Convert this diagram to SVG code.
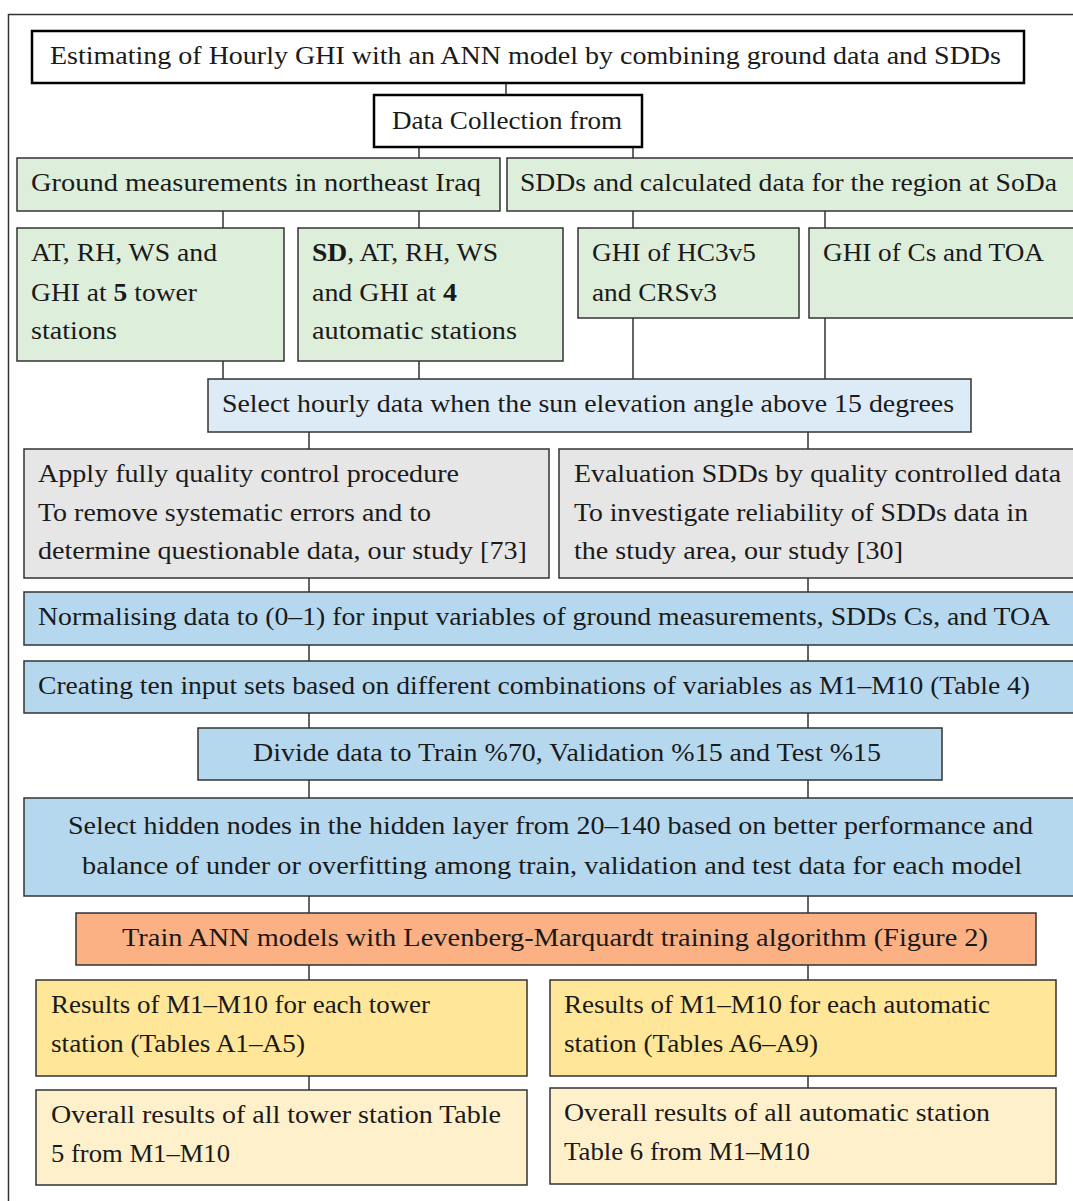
<svg xmlns="http://www.w3.org/2000/svg" width="1073" height="1201" viewBox="0 0 1073 1201">
<style>
text{font-family:"Liberation Serif","Times New Roman",serif;font-size:25px;fill:#1a1a1a}
.b{stroke:#333;stroke-width:1.5}
.k{fill:#fff;stroke:#000;stroke-width:2.5}
.g{fill:#ddeedb}
.lb{fill:#ddebf7}
.gr{fill:#e6e6e6}
.bl{fill:#b5d8ef}
.or{fill:#fbb184}
.y{fill:#ffe698}
.ly{fill:#fff0cc}
.c{stroke:#333;stroke-width:1.5;fill:none}
</style>
<rect width="1073" height="1201" fill="#fff"/>
<path d="M8.5,1201 V14.5 H1073" fill="none" stroke="#333" stroke-width="1.5"/>
<g id="connectors">
<path class="c" d="M506,83 V95 M419,147 V158 M633,147 V158 M223,211 V228 M419,211 V228 M633,211 V228 M825,211 V228 M223,361 V379 M419,361 V379 M633,318 V379 M825,318 V379 M309,432 V449 M808,432 V449 M309,578 V592 M808,578 V592 M309,645 V661 M808,645 V661 M309,713 V728 M808,713 V728 M309,780 V798 M808,780 V798 M309,896 V913 M808,896 V913 M309,965 V980 M808,965 V980 M309,1076 V1090 M808,1076 V1088"/>
</g>
<g id="title"><rect class="k" x="32" y="31" width="992" height="52"/><text x="50" y="64" textLength="951" lengthAdjust="spacingAndGlyphs">Estimating of Hourly GHI with an ANN model by combining ground data and SDDs</text></g>
<g id="collection"><rect class="k" x="374" y="95" width="268" height="52"/><text x="392" y="129" textLength="230" lengthAdjust="spacingAndGlyphs">Data Collection from</text></g>
<g id="ground"><rect class="b g" x="17" y="158" width="483" height="53"/><text x="31" y="191" textLength="450" lengthAdjust="spacingAndGlyphs">Ground measurements in northeast Iraq</text></g>
<g id="sdds"><rect class="b g" x="507" y="158" width="570" height="53"/><text x="520" y="191" textLength="537" lengthAdjust="spacingAndGlyphs">SDDs and calculated data for the region at SoDa</text></g>
<g id="tower"><rect class="b g" x="17" y="228" width="267" height="133"/>
<text x="31" y="261" textLength="186" lengthAdjust="spacingAndGlyphs">AT, RH, WS and</text>
<text x="31" y="301" textLength="166" lengthAdjust="spacingAndGlyphs">GHI at <tspan font-weight="bold">5</tspan> tower</text>
<text x="31" y="339" textLength="86" lengthAdjust="spacingAndGlyphs">stations</text></g>
<g id="automatic"><rect class="b g" x="298" y="228" width="265" height="133"/>
<text x="312" y="261" textLength="186" lengthAdjust="spacingAndGlyphs"><tspan font-weight="bold">SD</tspan>, AT, RH, WS</text>
<text x="312" y="301" textLength="145" lengthAdjust="spacingAndGlyphs">and GHI at <tspan font-weight="bold">4</tspan></text>
<text x="312" y="339" textLength="205" lengthAdjust="spacingAndGlyphs">automatic stations</text></g>
<g id="hc3"><rect class="b g" x="578" y="228" width="221" height="90"/>
<text x="592" y="261" textLength="164" lengthAdjust="spacingAndGlyphs">GHI of HC3v5</text>
<text x="592" y="301" textLength="125" lengthAdjust="spacingAndGlyphs">and CRSv3</text></g>
<g id="cstoa"><rect class="b g" x="809" y="228" width="268" height="90"/>
<text x="823" y="261" textLength="221" lengthAdjust="spacingAndGlyphs">GHI of Cs and TOA</text></g>
<g id="select"><rect class="b lb" x="208" y="379" width="763" height="53"/>
<text x="222" y="412" textLength="732" lengthAdjust="spacingAndGlyphs">Select hourly data when the sun elevation angle above 15 degrees</text></g>
<g id="qc"><rect class="b gr" x="24" y="449" width="525" height="129"/>
<text x="38" y="482" textLength="421" lengthAdjust="spacingAndGlyphs">Apply fully quality control procedure</text>
<text x="38" y="521" textLength="393" lengthAdjust="spacingAndGlyphs">To remove systematic errors and to</text>
<text x="38" y="559" textLength="489" lengthAdjust="spacingAndGlyphs">determine questionable data, our study [73]</text></g>
<g id="eval"><rect class="b gr" x="559" y="449" width="518" height="129"/>
<text x="574" y="482" textLength="487" lengthAdjust="spacingAndGlyphs">Evaluation SDDs by quality controlled data</text>
<text x="574" y="521" textLength="454" lengthAdjust="spacingAndGlyphs">To investigate reliability of SDDs data in</text>
<text x="574" y="559" textLength="329" lengthAdjust="spacingAndGlyphs">the study area, our study [30]</text></g>
<g id="normalise"><rect class="b bl" x="24" y="592" width="1053" height="53"/>
<text x="38" y="625" textLength="1012" lengthAdjust="spacingAndGlyphs">Normalising data to (0–1) for input variables of ground measurements, SDDs Cs, and TOA</text></g>
<g id="create"><rect class="b bl" x="24" y="661" width="1053" height="52"/>
<text x="38" y="694" textLength="992" lengthAdjust="spacingAndGlyphs">Creating ten input sets based on different combinations of variables as M1–M10 (Table 4)</text></g>
<g id="divide"><rect class="b bl" x="198" y="728" width="744" height="52"/>
<text x="253" y="761" textLength="628" lengthAdjust="spacingAndGlyphs">Divide data to Train %70, Validation %15 and Test %15</text></g>
<g id="hidden"><rect class="b bl" x="24" y="798" width="1053" height="98"/>
<text x="68" y="834" textLength="965" lengthAdjust="spacingAndGlyphs">Select hidden nodes in the hidden layer from 20–140 based on better performance and</text>
<text x="82" y="874" textLength="940" lengthAdjust="spacingAndGlyphs">balance of under or overfitting among train, validation and test data for each model</text></g>
<g id="train"><rect class="b or" x="76" y="913" width="960" height="52"/>
<text x="122" y="946" textLength="866" lengthAdjust="spacingAndGlyphs">Train ANN models with Levenberg-Marquardt training algorithm (Figure 2)</text></g>
<g id="res-tower"><rect class="b y" x="36" y="980" width="491" height="96"/>
<text x="51" y="1013" textLength="379" lengthAdjust="spacingAndGlyphs">Results of M1–M10 for each tower</text>
<text x="51" y="1052" textLength="254" lengthAdjust="spacingAndGlyphs">station (Tables A1–A5)</text></g>
<g id="res-auto"><rect class="b y" x="550" y="980" width="506" height="96"/>
<text x="564" y="1013" textLength="426" lengthAdjust="spacingAndGlyphs">Results of M1–M10 for each automatic</text>
<text x="564" y="1052" textLength="254" lengthAdjust="spacingAndGlyphs">station (Tables A6–A9)</text></g>
<g id="overall-tower"><rect class="b ly" x="36" y="1090" width="491" height="95"/>
<text x="51" y="1123" textLength="450" lengthAdjust="spacingAndGlyphs">Overall results of all tower station Table</text>
<text x="51" y="1162" textLength="179" lengthAdjust="spacingAndGlyphs">5 from M1–M10</text></g>
<g id="overall-auto"><rect class="b ly" x="550" y="1088" width="506" height="96"/>
<text x="564" y="1121" textLength="426" lengthAdjust="spacingAndGlyphs">Overall results of all automatic station</text>
<text x="564" y="1160" textLength="246" lengthAdjust="spacingAndGlyphs">Table 6 from M1–M10</text></g>
</svg>
